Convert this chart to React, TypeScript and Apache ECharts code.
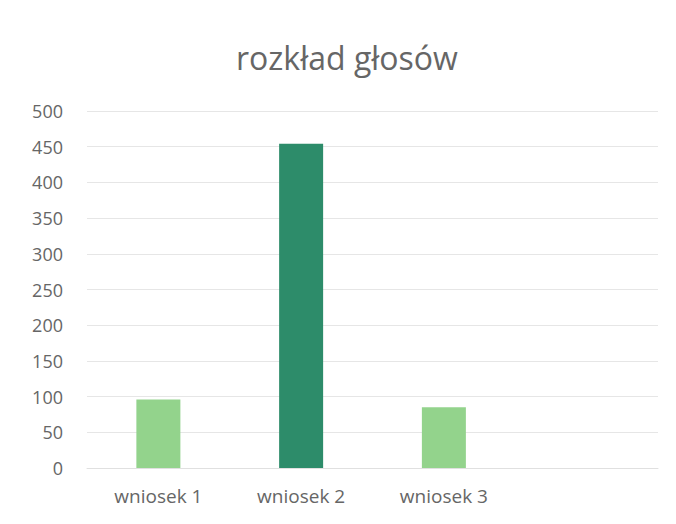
import React, { useEffect, useRef } from "react";
import * as echarts from "echarts";

const categories = ["wniosek 1", "wniosek 2", "wniosek 3", ""];
const votes = [96, 454, 85, null];
const barColors = ["#93d38c", "#2d8c6a", "#93d38c", "#93d38c"];
const yTicks = { min: 0, max: 500, interval: 50 };
const title = "rozkład głosów";

export default function App() {
  const ref = useRef<HTMLDivElement>(null);
  useEffect(() => {
    if (!ref.current) return;
    const chart = echarts.init(ref.current, null, { renderer: "svg" });
    chart.setOption({
      animation: false,
      backgroundColor: "#ffffff",
      title: {
        text: title,
        left: 231,
        top: 36,
        textStyle: {
          fontFamily: "Open Sans",
          fontSize: 32,
          fontWeight: "normal",
          color: "#666666",
        },
      },
      grid: { left: 87, right: 18, top: 111, bottom: 56 },
      xAxis: {
        type: "category",
        data: categories,
        axisLine: { show: true, lineStyle: { color: "#e0e0e0" } },
        axisTick: { show: false },
        axisLabel: {
          fontFamily: "Open Sans",
          fontSize: 19,
          color: "#666666",
          margin: 18,
        },
      },
      yAxis: {
        type: "value",
        min: yTicks.min,
        max: yTicks.max,
        interval: yTicks.interval,
        axisLine: { show: false },
        axisTick: { show: false },
        splitLine: { lineStyle: { color: "#e6e6e6" } },
        axisLabel: {
          fontFamily: "Open Sans",
          fontSize: 18,
          color: "#666666",
          margin: 24,
        },
      },
      series: [
        {
          type: "bar",
          data: votes.map((v, i) => ({
            value: v,
            itemStyle: { color: barColors[i] },
          })),
          barWidth: 44,
        },
      ],
    });
    return () => chart.dispose();
  }, []);
  return <div ref={ref} style={{ width: 676, height: 524, margin: -8 }} />;
}
